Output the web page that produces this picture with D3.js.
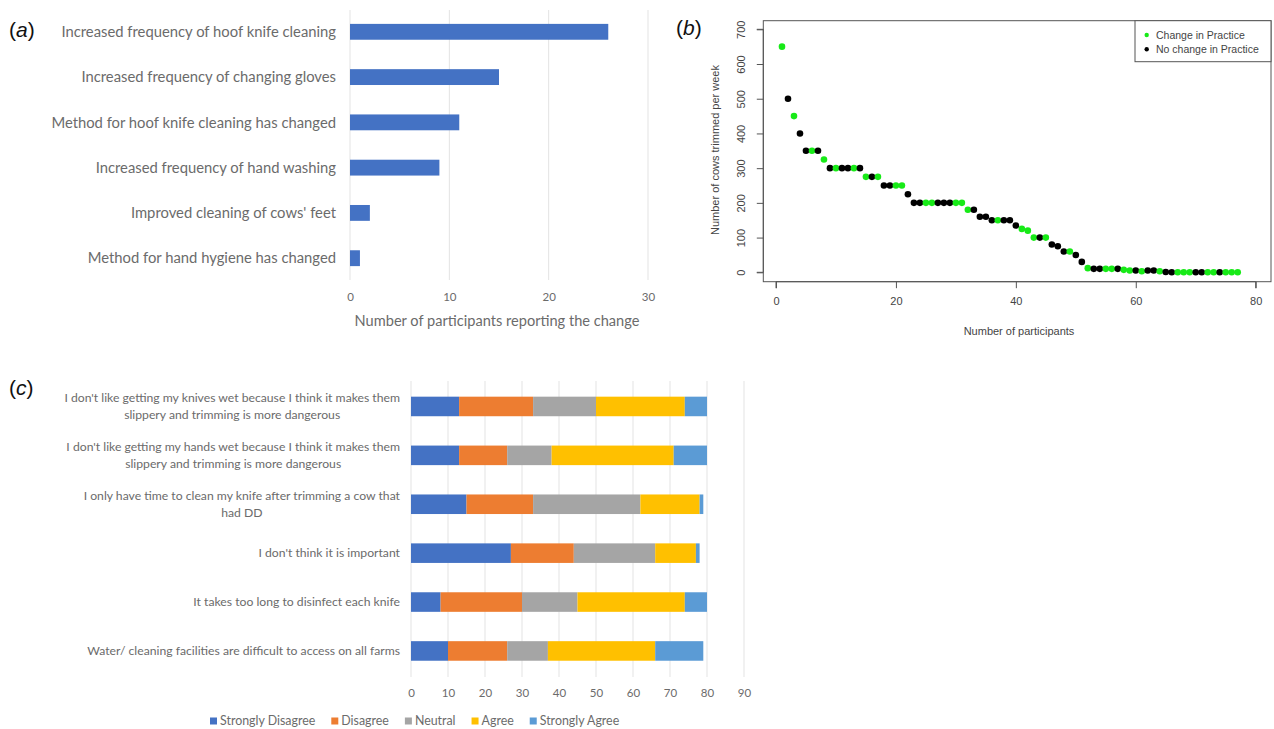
<!DOCTYPE html>
<html>
<head>
<meta charset="utf-8">
<script src="https://cdn.jsdelivr.net/npm/d3@7"></script>
<style>
  html, body { margin: 0; padding: 0; background: #fff; }
  svg { display: block; }
</style>
</head>
<body>
<svg id="chart" width="1274" height="729"></svg>
<script>
// ---------------- Panel (a) data ----------------
const changeCategories = [
  "Increased frequency of hoof knife cleaning",
  "Increased frequency of changing gloves",
  "Method for hoof knife cleaning has changed",
  "Increased frequency of hand washing",
  "Improved cleaning of cows' feet",
  "Method for hand hygiene has changed"
];
const changeCounts = [26, 15, 11, 9, 2, 1];
const changeTicks = [0, 10, 20, 30];

// ---------------- Panel (b) data ----------------
// cows trimmed per week, ordered by participant (1..77)
const cowsTrimmed = [
  650, 500, 450, 400, 350, 350, 350, 325, 300, 300,
  300, 300, 300, 300, 275, 275, 275, 250, 250, 250,
  250, 225, 200, 200, 200, 200, 200, 200, 200, 200,
  200, 180, 180, 160, 160, 150, 150, 150, 150, 135,
  125, 120, 100, 100, 100, 80, 75, 60, 60, 50,
  30, 12, 10, 10, 10, 10, 10, 7, 5, 5,
  3, 5, 5, 3, 1, 0, 0, 0, 0, 0,
  0, 0, 0, 0, 0, 0, 0
];
// G = Change in Practice, N = No change in Practice
const practiceGroup = [
  "G","N","G","N","N","G","N","G","N","G",
  "N","N","G","N","G","N","G","N","N","G",
  "G","N","N","N","G","G","N","N","N","G",
  "G","G","N","N","N","N","G","N","N","N",
  "G","G","G","N","G","N","N","N","G","N",
  "N","G","N","N","G","G","N","G","G","N",
  "G","N","N","G","N","N","G","G","G","N",
  "N","G","G","N","G","G","G"
];
const practiceLegend = ["Change in Practice", "No change in Practice"];
const participantTicks = [0, 20, 40, 60, 80];
const cowTicks = [0, 100, 200, 300, 400, 500, 600, 700];

// ---------------- Panel (c) data ----------------
const barrierCategories = [
  "I don't like getting my knives wet because I think it makes them\nslippery and trimming is more dangerous",
  "I don't like getting my hands wet because I think it makes them\nslippery and trimming is more dangerous",
  "I only have time to clean my knife after trimming a cow that\nhad DD",
  "I don't think it is important",
  "It takes too long to disinfect each knife",
  "Water/ cleaning facilities are difficult to access on all farms"
];
const likertLevels = ["Strongly Disagree", "Disagree", "Neutral", "Agree", "Strongly Agree"];
const stronglyDisagree = [13, 13, 15, 27, 8, 10];
const disagree         = [20, 13, 18, 17, 22, 16];
const neutral          = [17, 12, 29, 22, 15, 11];
const agree            = [24, 33, 16, 11, 29, 29];
const stronglyAgree    = [6, 9, 1, 1, 6, 13];
const likertTicks = [0, 10, 20, 30, 40, 50, 60, 70, 80, 90];

// ---------------- Drawing ----------------
const svg = d3.select("#chart");
const officeFont = "Lato, 'Open Sans', sans-serif";
const rFont = "'Liberation Sans', Arial, sans-serif";
const greyText = "#6b6b6b";
const gridCol = "#e3e3e3";

function panelLabel(x, y, letter) {
  const t = svg.append("text").attr("x", x).attr("y", y)
    .attr("font-family", rFont).attr("font-size", 21).attr("fill", "#111");
  t.append("tspan").text("(");
  t.append("tspan").attr("font-style", "italic").text(letter);
  t.append("tspan").text(")");
}
panelLabel(9, 37, "a");
panelLabel(676, 35, "b");
panelLabel(9, 395, "c");

// ===== Panel (a) =====
{
  const x = d3.scaleLinear().domain([0, 30]).range([350, 648]);
  const y = d3.scaleBand().domain(changeCategories).range([9.4, 280.6])
    .paddingInner(0.65).paddingOuter(0.32);
  const g = svg.append("g");
  g.selectAll("line.grid").data(changeTicks).join("line")
    .attr("x1", d => x(d)).attr("x2", d => x(d))
    .attr("y1", 10).attr("y2", 280)
    .attr("stroke", gridCol).attr("stroke-width", 1);
  g.selectAll("rect").data(changeCounts).join("rect")
    .attr("x", x(0)).attr("y", (d, i) => y(changeCategories[i]))
    .attr("width", d => x(d) - x(0)).attr("height", y.bandwidth())
    .attr("fill", "#4472C4");
  g.selectAll("text.cat").data(changeCategories).join("text")
    .attr("x", 336).attr("y", d => y(d) + y.bandwidth() / 2)
    .attr("dy", "0.35em").attr("text-anchor", "end")
    .attr("font-family", officeFont).attr("font-size", 14.8).attr("fill", greyText)
    .text(d => d);
  const ax = d3.axisBottom(x).tickValues(changeTicks).tickSize(0).tickPadding(0);
  const axg = g.append("g").attr("transform", "translate(0,297)").call(ax);
  axg.select(".domain").remove();
  axg.selectAll("text").attr("font-family", officeFont).attr("font-size", 11.5)
    .attr("fill", greyText).attr("dy", "0.35em");
  g.append("text").attr("x", 497).attr("y", 326).attr("text-anchor", "middle")
    .attr("font-family", officeFont).attr("font-size", 14.6).attr("fill", greyText)
    .text("Number of participants reporting the change");
}

// ===== Panel (b) =====
{
  const x = d3.scaleLinear().domain([0, 80]).range([776, 1255.7]);
  const y = d3.scaleLinear().domain([0, 700]).range([272.3, 29.3]);
  const g = svg.append("g");
  const box = { l: 763.3, t: 20.7, r: 1271, b: 281.7 };
  g.append("rect").attr("x", box.l).attr("y", box.t)
    .attr("width", box.r - box.l).attr("height", box.b - box.t)
    .attr("fill", "none").attr("stroke", "#555").attr("stroke-width", 1);

  // y axis (R style: ticks outward, rotated labels)
  const ya = d3.axisLeft(y).tickValues(cowTicks).tickSize(6.5).tickPadding(0);
  const yg = g.append("g").attr("transform", `translate(${box.l},0)`).call(ya);
  yg.select(".domain").attr("d", `M-6.5,${y(0)}H0V${y(700)}H-6.5`).attr("stroke", "#555");
  yg.selectAll(".tick line").attr("stroke", "#555");
  yg.selectAll(".tick text").attr("font-family", rFont).attr("font-size", 11)
    .attr("fill", "#444").attr("text-anchor", "middle")
    .attr("x", 0).attr("dy", 0)
    .attr("transform", `translate(-18,0) rotate(-90)`)
    .attr("y", 0);

  // x axis
  const xa = d3.axisBottom(x).tickValues(participantTicks).tickSize(6.5).tickPadding(9);
  const xg = g.append("g").attr("transform", `translate(0,${box.b})`).call(xa);
  xg.select(".domain").attr("d", `M${x(0)},6.5V0H${x(80)}V6.5`).attr("stroke", "#555");
  xg.selectAll(".tick line").attr("stroke", "#555");
  xg.selectAll(".tick text").attr("font-family", rFont).attr("font-size", 11).attr("fill", "#444");

  g.append("text").attr("transform", `translate(719,150) rotate(-90)`)
    .attr("text-anchor", "middle").attr("font-family", rFont).attr("font-size", 11)
    .attr("fill", "#444").text("Number of cows trimmed per week");
  g.append("text").attr("x", 1019).attr("y", 335).attr("text-anchor", "middle")
    .attr("font-family", rFont).attr("font-size", 11)
    .attr("fill", "#444").text("Number of participants");

  const colour = d3.scaleOrdinal().domain(["G", "N"]).range(["#17ea17", "#000000"]);
  g.selectAll("circle.pt").data(cowsTrimmed).join("circle")
    .attr("cx", (d, i) => x(i + 1)).attr("cy", d => y(d))
    .attr("r", 3.3).attr("fill", (d, i) => colour(practiceGroup[i]));

  // legend
  const lg = g.append("g");
  lg.append("rect").attr("x", 1135).attr("y", box.t)
    .attr("width", box.r - 1135).attr("height", 41)
    .attr("fill", "#fff").attr("stroke", "#555");
  practiceLegend.forEach((lab, i) => {
    const yy = 35 + i * 14.3;
    lg.append("circle").attr("cx", 1146.7).attr("cy", yy).attr("r", 2.2)
      .attr("fill", colour(["G", "N"][i]));
    lg.append("text").attr("x", 1156).attr("y", yy).attr("dy", "0.35em")
      .attr("font-family", rFont).attr("font-size", 10.5).attr("fill", "#444").text(lab);
  });
}

// ===== Panel (c) =====
{
  const x = d3.scaleLinear().domain([0, 90]).range([411, 744]);
  const y = d3.scaleBand().domain(barrierCategories).range([382, 675.4])
    .paddingInner(0.6).paddingOuter(0.3);
  const colours = ["#4472C4", "#ED7D31", "#A5A5A5", "#FFC000", "#5B9BD5"];
  const colour = d3.scaleOrdinal().domain(likertLevels).range(colours);
  const g = svg.append("g");

  g.selectAll("line.grid").data(likertTicks).join("line")
    .attr("x1", d => x(d)).attr("x2", d => x(d))
    .attr("y1", 381).attr("y2", 677)
    .attr("stroke", gridCol).attr("stroke-width", 1);

  const rows = barrierCategories.map((c, i) => ({
    cat: c,
    "Strongly Disagree": stronglyDisagree[i],
    "Disagree": disagree[i],
    "Neutral": neutral[i],
    "Agree": agree[i],
    "Strongly Agree": stronglyAgree[i]
  }));
  const stacked = d3.stack().keys(likertLevels)(rows);
  g.selectAll("g.series").data(stacked).join("g")
    .attr("fill", d => colour(d.key))
    .selectAll("rect").data(d => d).join("rect")
    .attr("x", d => x(d[0])).attr("width", d => x(d[1]) - x(d[0]))
    .attr("y", d => y(d.data.cat)).attr("height", y.bandwidth());

  // category labels: wrapped lines centred within a right-aligned block
  barrierCategories.forEach(cat => {
    const lines = cat.split("\n");
    const t = g.append("text").attr("font-family", officeFont).attr("font-size", 12.2)
      .attr("fill", greyText);
    const spans = lines.map(l => t.append("tspan").text(l));
    const widths = spans.map(s => s.node().getComputedTextLength());
    const maxW = d3.max(widths);
    const right = 400;
    const cy = y(cat) + y.bandwidth() / 2;
    const lh = 17.3;
    spans.forEach((s, i) => {
      s.attr("x", lines.length > 1 ? right - maxW / 2 : right)
       .attr("y", cy + (i - (lines.length - 1) / 2) * lh)
       .attr("dy", "0.35em");
    });
    t.attr("text-anchor", lines.length > 1 ? "middle" : "end");
  });

  const ax = d3.axisBottom(x).tickValues(likertTicks).tickSize(0).tickPadding(0);
  const axg = g.append("g").attr("transform", "translate(0,693)").call(ax);
  axg.select(".domain").remove();
  axg.selectAll("text").attr("font-family", officeFont).attr("font-size", 11.5)
    .attr("fill", greyText).attr("dy", "0.35em");

  // legend
  const lg = g.append("g");
  let cx = 210;
  likertLevels.forEach(lev => {
    lg.append("rect").attr("x", cx).attr("y", 717.5).attr("width", 7).attr("height", 7)
      .attr("fill", colour(lev));
    const t = lg.append("text").attr("x", cx + 10).attr("y", 721).attr("dy", "0.35em")
      .attr("font-family", officeFont).attr("font-size", 12.4).attr("fill", greyText).text(lev);
    cx += 10 + t.node().getComputedTextLength() + 16;
  });
}
</script>
</body>
</html>
